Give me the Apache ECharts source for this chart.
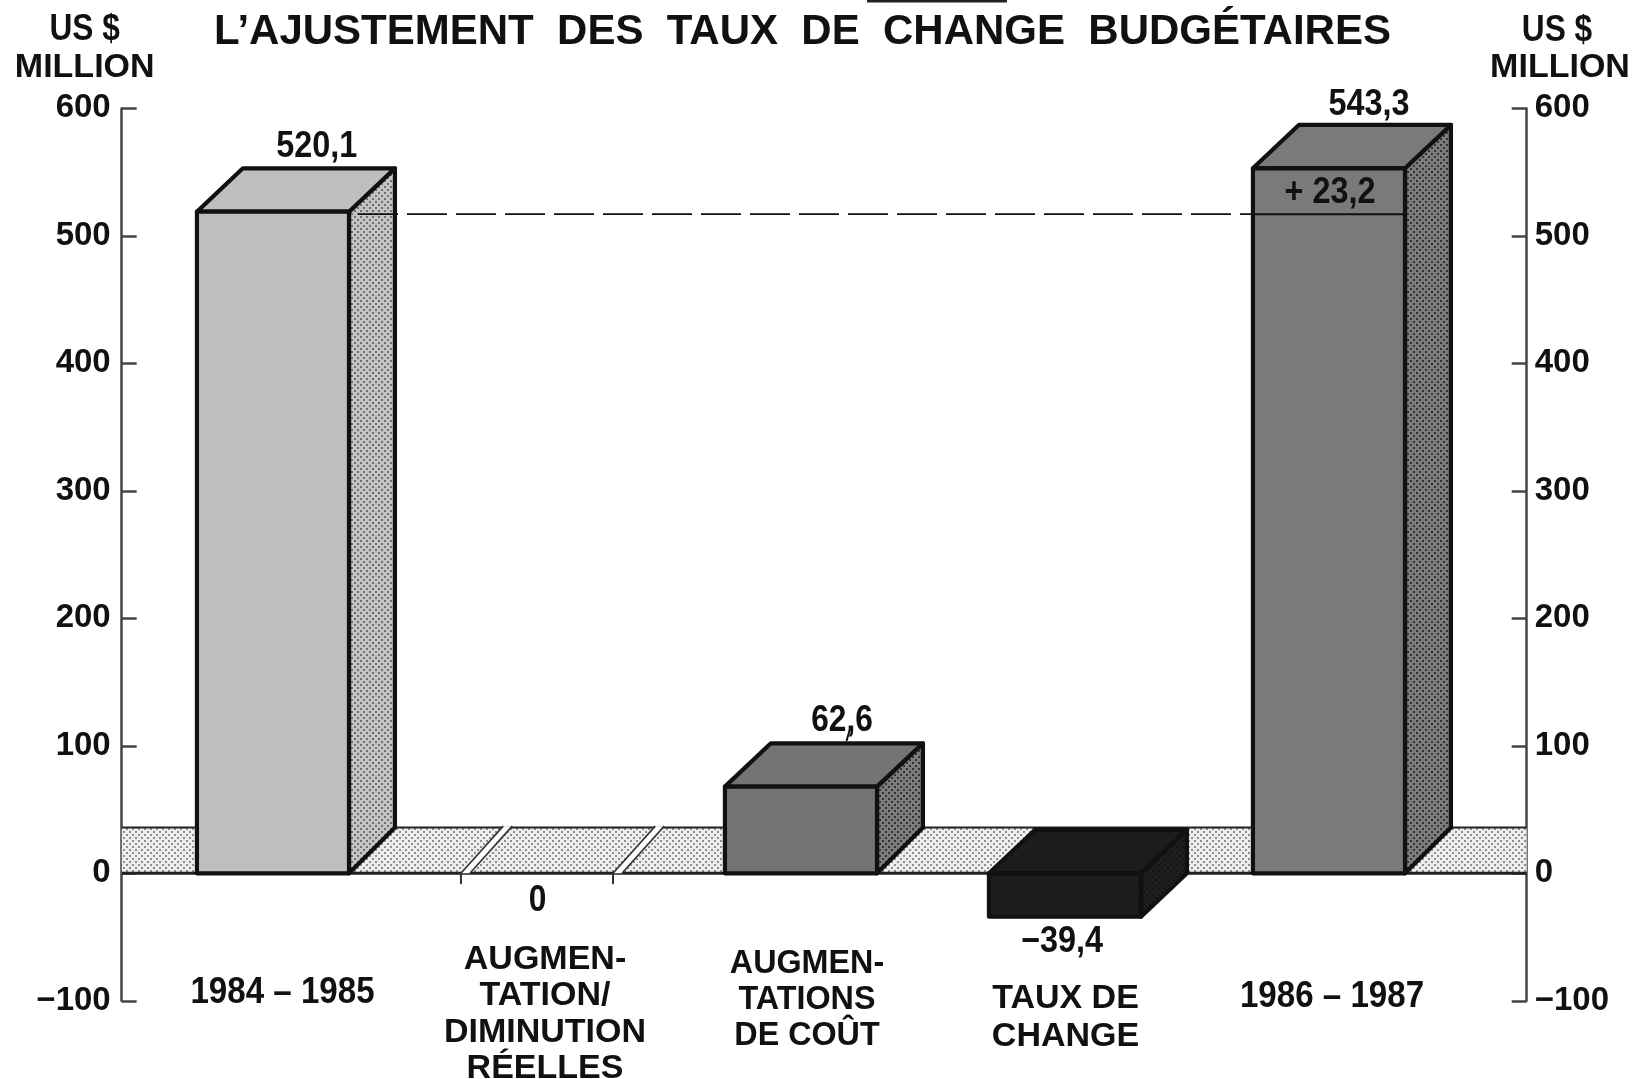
<!DOCTYPE html>
<html>
<head>
<meta charset="utf-8">
<script src="https://cdn.jsdelivr.net/npm/echarts@6/dist/echarts.min.js"></script>
<style>
html, body { margin: 0; padding: 0; background: #fff; }
#main { width: 1636px; height: 1079px; }
</style>
</head>
<body>
<div id="main"></div>
<script>
// printed figures
var categories = ['1984 – 1985', 'AUGMEN-\nTATION/\nDIMINUTION\nRÉELLES', 'AUGMEN-\nTATIONS\nDE COÛT', 'TAUX DE\nCHANGE', '1986 – 1987'];
var printedValues = ['520,1', '0', '62,6', '−39,4', '543,3'];
var printedIncrease = '+ 23,2';
var yTicks = [-100, 0, 100, 200, 300, 400, 500, 600];

// heights as they are drawn in the picture (the artwork does not follow the printed figures exactly)
var drawnHeights = [519, 0, 68, -34, 553];
var priorLevel = [517];   // level of the dashed line and of the line inside the last bar
var floorHeight = [36];

var FONT = '"Liberation Sans", Arial, sans-serif';
var INK = '#111';
var barW = 0.288;   // half width, x axis units
var depthX = 0.174;
var depthY = 34;

function dots(bg, fg) {
    var c = document.createElement('canvas');
    c.width = 6; c.height = 6;
    var g = c.getContext('2d');
    g.fillStyle = bg;
    g.fillRect(0, 0, 6, 6);
    g.fillStyle = fg;
    g.fillRect(0, 0, 2, 2);
    g.fillRect(3, 3, 2, 2);
    return { image: c, repeat: 'repeat' };
}

var frontFill = ['#bebebe', null, '#747474', '#1c1c1c', '#7a7a7a'];
var sideFill = [dots('#c4c4c4', '#707070'), null, dots('#7c7c7c', '#343434'), dots('#1e1e1e', '#141414'), dots('#7c7c7c', '#343434')];
var floorFill = dots('#eeeeee', '#8e8e8e');

function poly(api, pts, fill) {
    return {
        type: 'polygon',
        shape: { points: pts.map(function (p) { return api.coord(p); }) },
        style: { fill: fill, stroke: INK, lineWidth: 4.2, lineJoin: 'round' }
    };
}

function seg(api, a, b, color, w) {
    var p = api.coord(a), q = api.coord(b);
    return {
        type: 'line',
        shape: { x1: p[0], y1: p[1], x2: q[0], y2: q[1] },
        style: { stroke: color, lineWidth: w }
    };
}

function renderFloor(params, api) {
    var xMin = api.value(0), xMax = api.value(1), h = api.value(2);
    var a = api.coord([xMin, h]), b = api.coord([xMax, 0]);
    return {
        type: 'group',
        children: [
            { type: 'rect', shape: { x: a[0], y: a[1], width: b[0] - a[0], height: b[1] - a[1] }, style: { fill: floorFill } },
            seg(api, [xMin, h], [xMax, h], '#222', 2),
            seg(api, [xMin, 0], [xMax, 0], '#222', 3)
        ]
    };
}

function renderBar(params, api) {
    var i = api.value(0), v = api.value(1);
    var x0 = i - barW, x1 = i + barW;
    var children = [];
    if (v === 0) {
        // no bar: two breaks in the floor and two small ticks under it
        [x0, x1].forEach(function (x) {
            var gap = 0.034;
            var top = floorHeight[0] + 1;
            var slant = depthX * 0.92;
            children.push({
                type: 'polygon',
                shape: { points: [[x, 0], [x + slant, top], [x + slant + gap, top], [x + gap, 0]].map(function (p) { return api.coord(p); }) },
                style: { fill: '#fff' }
            });
            children.push(seg(api, [x, 0], [x + slant, top], '#333', 1.6));
            children.push(seg(api, [x + gap, 0], [x + slant + gap, top], '#333', 1.6));
            children.push(seg(api, [x, 0], [x, -8.5], '#333', 2));
        });
        return { type: 'group', children: children };
    }
    var t = Math.max(v, 0), b = Math.min(v, 0);
    var backBottom = b === 0 ? floorHeight[0] : b + depthY;
    children.push(poly(api, [[x1, b], [x1 + depthX, backBottom], [x1 + depthX, t + depthY], [x1, t]], sideFill[i]));
    children.push(poly(api, [[x0, t], [x1, t], [x1 + depthX, t + depthY], [x0 + depthX, t + depthY]], frontFill[i]));
    children.push(poly(api, [[x0, b], [x1, b], [x1, t], [x0, t]], frontFill[i]));
    if (i === 4) {
        children.push(seg(api, [x0, priorLevel[0]], [x1, priorLevel[0]], INK, 2));
    }
    return { type: 'group', children: children };
}

function label(text, x, y, size, sx, lineH) {
    var st = {
        text: text,
        fill: INK,
        font: 'bold ' + size + 'px ' + FONT,
        textAlign: 'center',
        textVerticalAlign: 'middle'
    };
    if (lineH) st.lineHeight = lineH;
    return { type: 'text', x: x, y: y + 2.5, scaleX: sx || 1, z: 20, style: st };
}

var chart = echarts.init(document.getElementById('main'), null, { renderer: 'canvas' });

function yAxis(position, margin) {
    return {
        type: 'value',
        position: position,
        min: yTicks[0],
        max: yTicks[yTicks.length - 1],
        interval: 100,
        splitLine: { show: false },
        axisLine: { show: true, onZero: false, lineStyle: { color: '#444', width: 2.5 } },
        axisTick: { show: true, inside: true, length: 15, lineStyle: { color: '#444', width: 2.5 } },
        axisLabel: {
            margin: margin,
            color: INK,
            fontFamily: FONT,
            fontWeight: 'bold',
            fontSize: 33,
            padding: [0, 0, 2, 0],
            formatter: function (v) { return String(v).replace('-', '−'); }
        }
    };
}

var option = {
    animation: false,
    backgroundColor: '#fff',
    grid: { left: 121.7, right: 109.3, top: 108.4, bottom: 78.2 },
    xAxis: { type: 'value', min: -0.573, max: 4.749, show: false },
    yAxis: [yAxis('left', 11), yAxis('right', 8)],
    series: [
        {
            type: 'custom',
            z: 1,
            clip: false,
            silent: true,
            renderItem: renderFloor,
            data: [[-0.573, 4.749, floorHeight[0]]]
        },
        {
            type: 'custom',
            z: 2,
            clip: false,
            silent: true,
            renderItem: renderBar,
            data: drawnHeights.map(function (h, i) { return [i, h]; })
        },
        {
            type: 'line',
            z: 3,
            silent: true,
            showSymbol: false,
            lineStyle: { color: INK, width: 1.8, type: [40, 9] },
            data: [[0.322, priorLevel[0]], [3.712, priorLevel[0]]]
        }
    ],
    graphic: [
        label('L’AJUSTEMENT  DES  TAUX  DE  CHANGE  BUDGÉTAIRES', 802.5, 30, 42),
        { type: 'rect', shape: { x: 867, y: 0, width: 140, height: 2.5 }, style: { fill: '#222' } },
        label('US $', 84.7, 28, 36, 0.88),
        label('MILLION', 84.7, 65, 34),
        label('US $', 1557, 29, 36, 0.88),
        label('MILLION', 1560, 65, 34),
        label(printedValues[0], 316.7, 144.5, 36, 0.9),
        label(printedValues[1], 537.5, 898.5, 36, 0.88),
        label(printedValues[2], 842, 719, 36, 0.88),
        label(printedValues[3], 1062, 940, 36, 0.9),
        label(printedValues[4], 1369, 102.5, 36, 0.9),
        label(printedIncrease, 1330, 191, 36, 0.9),
        { type: 'line', shape: { x1: 850, y1: 729, x2: 846.5, y2: 741 }, style: { stroke: INK, lineWidth: 2 } },
        label(categories[0], 282.5, 991, 36, 0.92),
        label(categories[1], 545, 1011.7, 34, 1, 36.2),
        label(categories[2], 807, 997, 34, 0.95, 36),
        label(categories[3], 1065.5, 1015, 34, 1, 38),
        label(categories[4], 1332, 995, 36, 0.92)
    ]
};

chart.setOption(option);
</script>
</body>
</html>
